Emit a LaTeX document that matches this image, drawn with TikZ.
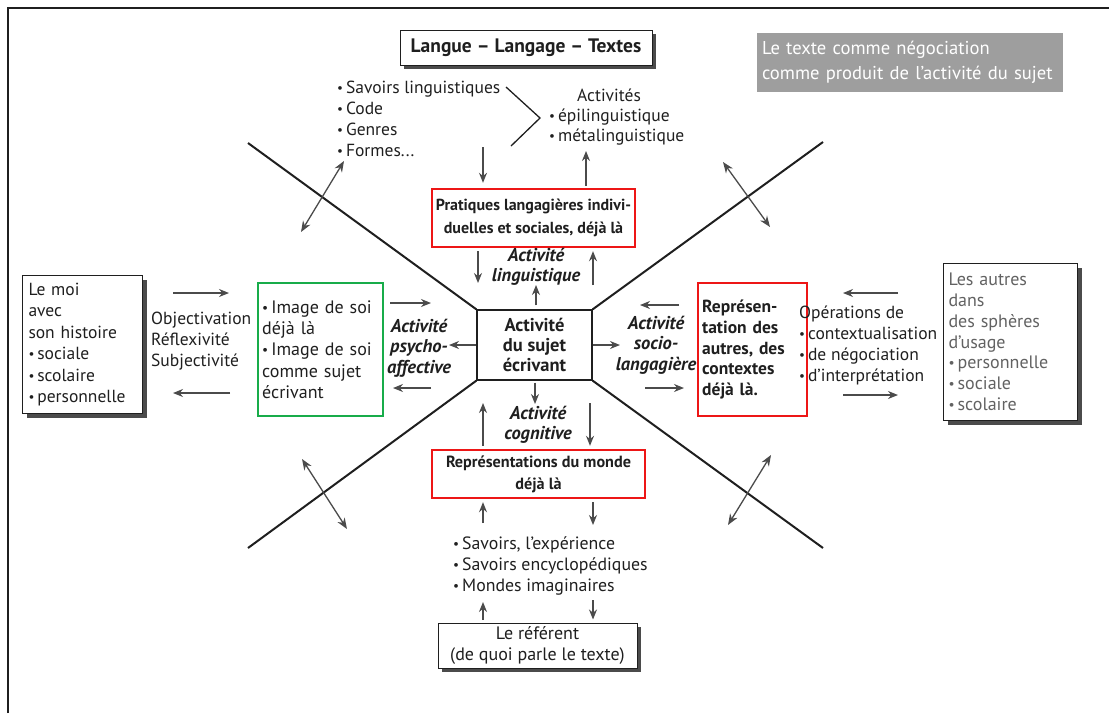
\documentclass[tikz,border=0pt]{standalone}
\usepackage{fontspec}
\setmainfont{PT Sans}
\usetikzlibrary{arrows.meta,shadows,calc}

\definecolor{ink}{gray}{0.12}
\definecolor{boxred}{RGB}{237,22,22}
\definecolor{boxgreen}{RGB}{24,172,74}
\definecolor{tagfill}{gray}{0.62}

\newcommand{\bul}{\raisebox{0.12ex}{\scalebox{0.75}{•}}\,}

\tikzset{
  txt/.style={inner sep=0pt, text=ink, font=\fontsize{17.5}{21}\selectfont},
  arr/.style={draw=ink!80, line width=1.3pt, -{Stealth[length=10pt,width=8pt]}},
  dblarr/.style={draw=ink!80, line width=1.3pt,
    {Stealth[length=11pt,width=8.5pt]}-{Stealth[length=11pt,width=8.5pt]}},
  axis/.style={draw=ink, line width=2pt},
  framed/.style={draw=ink, line width=1pt, fill=white,
    drop shadow={shadow xshift=4pt,shadow yshift=-4pt,fill=ink!80,opacity=1}},
  redbox/.style={draw=boxred, line width=2.4pt},
  greenbox/.style={draw=boxgreen, line width=2.4pt},
  act/.style={txt, font=\fontsize{18.5}{20.5}\selectfont\bfseries\itshape, align=center},
}

\begin{document}
\begin{tikzpicture}[x=1pt,y=-1pt]
\useasboundingbox (0,0) rectangle (1109,713);

% page frame
\draw[ink, line width=1.6pt] (8,713) -- (8,8) -- (1109,8);

% central box and the four axes
\node[draw=ink, line width=1.3pt, minimum width=115, minimum height=70, inner sep=0pt,
      align=center, text=ink, font=\fontsize{18.5}{20}\selectfont\bfseries]
      (core) at (534.5,345) {Activité\\du sujet\\écrivant};
\coordinate (ulend) at (248,143);
\coordinate (urend) at (823,142);
\coordinate (llend) at (248,548);
\coordinate (lrend) at (823,548);
\draw[axis] (ulend) -- (core.north west);
\draw[axis] (urend) -- (core.north east);
\draw[axis] (llend) -- (core.south west);
\draw[axis] (lrend) -- (core.south east);

% double arrows across the axes
\coordinate (ula) at (344,161); \coordinate (ulb) at (301,232);
\coordinate (ura) at (723,162); \coordinate (urb) at (770,227);
\coordinate (lla) at (302,459); \coordinate (llb) at (347,529);
\coordinate (lra) at (771,455); \coordinate (lrb) at (728,525);
\draw[dblarr] (ula) -- (ulb);
\draw[dblarr] (ura) -- (urb);
\draw[dblarr] (lla) -- (llb);
\draw[dblarr] (lra) -- (lrb);

% top: language
\node[framed, minimum width=252, minimum height=35, inner sep=0pt, text=ink,
      font=\fontsize{19.5}{20}\selectfont\bfseries] (lang) at (526,47.5)
      {Langue -- Langage -- Textes};
\node[fill=tagfill, minimum width=306, minimum height=59, text width=296, inner xsep=5pt,
      inner ysep=0pt, align=left, text=white, font=\fontsize{18.6}{25}\selectfont]
      (tag) at (910,62.5) {Le texte comme négociation\\comme produit de l’activité du sujet};

\node[txt, anchor=west, align=left] (savl) at (337,118.5)
  {\bul Savoirs linguistiques\\\bul Code\\\bul Genres\\\bul Formes...};
\node[txt, anchor=west, align=left, font=\fontsize{17.5}{20}\selectfont] (actm) at (549,117)
  {\hspace*{1.6em}Activités\\\bul épilinguistique\\\bul métalinguistique};
\coordinate (brA) at (506,87);
\coordinate (brB) at (540,118);
\coordinate (brC) at (511,146);
\draw[ink, line width=1.3pt] (brA) -- (brB) -- (brC);

\node[redbox, minimum width=203, minimum height=58, inner sep=0pt, align=center, text=ink,
      font=\fontsize{16}{23}\selectfont\bfseries] (prat) at (533.5,218)
      {Pratiques langagières indivi-\\duelles et sociales, déjà là};
\coordinate (t1) at (483,147);
\coordinate (t2) at (586,151);
\draw[arr, shorten >=5pt] (t1) -- (t1 |- prat.north);
\draw[arr, shorten <=2pt] (prat.north -| t2) -- (t2);

\node[act] (lingu) at (536,267) {Activité\\linguistique};
\coordinate (t3) at (478,283);
\coordinate (t4) at (593,285);
\draw[arr, shorten <=3pt] (prat.south -| t3) -- (t3);
\draw[arr, shorten >=3pt] (t4) -- (t4 |- prat.south);
\coordinate (t5) at (536,285);
\draw[arr, shorten <=4pt] (core.north -| t5) -- (t5);

% left: the self
\node[framed, anchor=north west, minimum width=120, minimum height=138, text width=108,
      inner xsep=6pt, inner ysep=0pt, align=left, text=ink,
      font=\fontsize{17.5}{21.4}\selectfont] (moi) at (22,275)
      {Le moi\\avec\\son histoire\\\bul sociale\\\bul scolaire\\\bul personnelle};
\node[txt, anchor=west, align=left] (objr) at (151,341)
      {Objectivation\\Réflexivité\\Subjectivité};
\coordinate (m1) at (173,293); \coordinate (m2) at (229,293);
\coordinate (m3) at (230,393); \coordinate (m4) at (173,393);
\draw[arr] (m1) -- (m2);
\draw[arr] (m3) -- (m4);

\node[greenbox, anchor=north west, minimum width=125, minimum height=133, text width=117,
      inner xsep=4pt, inner ysep=0pt, align=left, text=ink,
      font=\fontsize{18}{21.2}\selectfont] (imso) at (257,282)
      {\bul Image de soi\\déjà là\\\bul Image de soi\\comme sujet\\écrivant};
\node[act] (psy) at (419,348) {Activité\\psycho-\\affective};
\coordinate (p1) at (390,303); \coordinate (p2) at (431,303);
\coordinate (p3) at (449,345);
\coordinate (p4) at (431,388); \coordinate (p5) at (393,388);
\draw[arr] (p1) -- (p2);
\draw[arr] (core.west |- p3) -- (p3);
\draw[arr] (p4) -- (p5);

% right: the others
\node[act] (soc) at (656,345) {Activité\\socio-\\langagière};
\coordinate (s1) at (620,345);
\coordinate (s2) at (679,305); \coordinate (s3) at (640,305);
\coordinate (s4) at (645,388); \coordinate (s5) at (684,388);
\draw[arr] (core.east |- s1) -- (s1);
\draw[arr] (s2) -- (s3);
\draw[arr] (s4) -- (s5);

\node[redbox, anchor=north west, minimum width=109, minimum height=133, text width=101,
      inner xsep=4pt, inner ysep=0pt, align=left, text=ink,
      font=\fontsize{17.5}{20.6}\selectfont\bfseries] (repa) at (697,282)
      {Représen-\\tation des\\autres, des\\contextes\\déjà là.};
\node[txt, anchor=west, align=left, font=\fontsize{17.5}{21}\selectfont] (oper) at (799,345)
      {Opérations de\\\bul contextualisation\\\bul de négociation\\\bul d’interprétation};
\coordinate (o1) at (898,293); \coordinate (o2) at (843,293);
\coordinate (o3) at (843,395); \coordinate (o4) at (898,395);
\draw[arr] (o1) -- (o2);
\draw[arr] (o3) -- (o4);

\node[framed, anchor=north west, minimum width=134, minimum height=157, text width=124,
      inner xsep=5pt, inner ysep=0pt, align=left, text=ink!70,
      font=\fontsize{18}{20.8}\selectfont] (autr) at (943,263)
      {Les autres\\dans\\des sphères\\d’usage\\\bul personnelle\\\bul sociale\\\bul scolaire};

% bottom: the world
\node[act] (cogn) at (538,425) {Activité\\cognitive};
\coordinate (c1) at (535,404);
\coordinate (c2) at (483,403);
\coordinate (c3) at (590,443);
\draw[arr, shorten <=2pt] (core.south -| c1) -- (c1);

\node[redbox, minimum width=213, minimum height=48, inner sep=0pt, align=center, text=ink,
      font=\fontsize{16.2}{22}\selectfont\bfseries] (monde) at (538.5,474)
      {Représentations du monde\\déjà là};
\draw[arr, shorten <=3pt] (monde.north -| c2) -- (c2);
\draw[arr, shorten >=3pt] (c3 |- c2) -- (monde.north -| c3);

\node[txt, anchor=west, align=left, font=\fontsize{17.8}{21}\selectfont] (savm) at (453,566)
      {\bul Savoirs, l’expérience\\\bul Savoirs encyclopédiques\\\bul Mondes imaginaires};
\coordinate (b1) at (483,523); \coordinate (b2) at (593,525);
\draw[arr, shorten >=3pt] (b1) -- (b1 |- monde.south);
\draw[arr, shorten <=3pt] (monde.south -| b2) -- (b2);

\node[framed, minimum width=199, minimum height=45, inner sep=0pt, align=center, text=ink,
      font=\fontsize{18}{20.5}\selectfont] (refe) at (537.5,645.5)
      {Le référent\\(de quoi parle le texte)};
\coordinate (b3) at (483,602); \coordinate (b4) at (593,600);
\draw[arr, shorten <=3pt] (refe.north -| b3) -- (b3);
\draw[arr, shorten >=3pt] (b4) -- (b4 |- refe.north);

\end{tikzpicture}
\end{document}
